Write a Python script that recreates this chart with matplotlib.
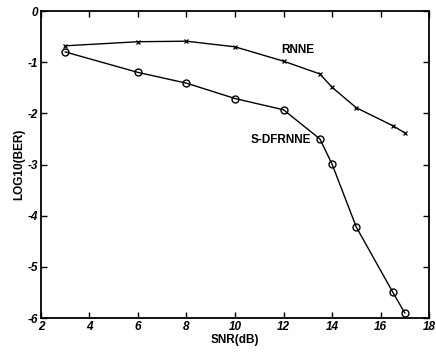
import matplotlib
matplotlib.use("Agg")
import matplotlib.pyplot as plt

snr_rnne = [3, 6, 8, 10, 12, 13.5, 14, 15, 16.5, 17]
ber_rnne = [-0.68, -0.6, -0.59, -0.7, -0.98, -1.23, -1.49, -1.89, -2.24, -2.38]
snr_sdf = [3, 6, 8, 10, 12, 13.5, 14, 15, 16.5, 17]
ber_sdf = [-0.8, -1.2, -1.41, -1.71, -1.93, -2.5, -2.99, -4.22, -5.49, -5.9]
xticks = [2, 4, 6, 8, 10, 12, 14, 16, 18]
yticks = [0, -1, -2, -3, -4, -5, -6]

plt.rcParams['font.family'] = ['Liberation Sans', 'DejaVu Sans']
plt.rcParams['axes.unicode_minus'] = False
fig = plt.figure(figsize=(4.36, 3.55), dpi=100)
ax = fig.add_axes([0.094, 0.104, 0.89, 0.865])
ax.plot(snr_rnne, ber_rnne, color='black', lw=1.0, marker='x', ms=3.5, mew=0.9)
ax.plot(snr_sdf, ber_sdf, color='black', lw=1.0, marker='o', ms=5, mfc='none', mew=1.0)
ax.set_xlim(2, 18)
ax.set_ylim(-6, 0)
ax.set_xticks(xticks)
ax.set_yticks(yticks)
ax.tick_params(direction='in', top=True, right=True, length=4, width=1, labelsize=8.5, pad=2)
for lbl in ax.get_xticklabels() + ax.get_yticklabels():
    lbl.set_fontweight('bold')
    lbl.set_fontstyle('italic')
for s in ax.spines.values():
    s.set_linewidth(1.3)
ax.set_xlabel('SNR(dB)', fontsize=8.5, fontweight='bold', labelpad=1)
ax.set_ylabel('LOG10(BER)', fontsize=8.5, fontweight='bold', labelpad=2)
ax.text(12.6, -0.76, 'RNNE', fontsize=8.5, fontweight='bold', ha='center', va='center')
ax.text(11.9, -2.52, 'S-DFRNNE', fontsize=8.5, fontweight='bold', ha='center', va='center')
fig.savefig('out.png', dpi=100)
